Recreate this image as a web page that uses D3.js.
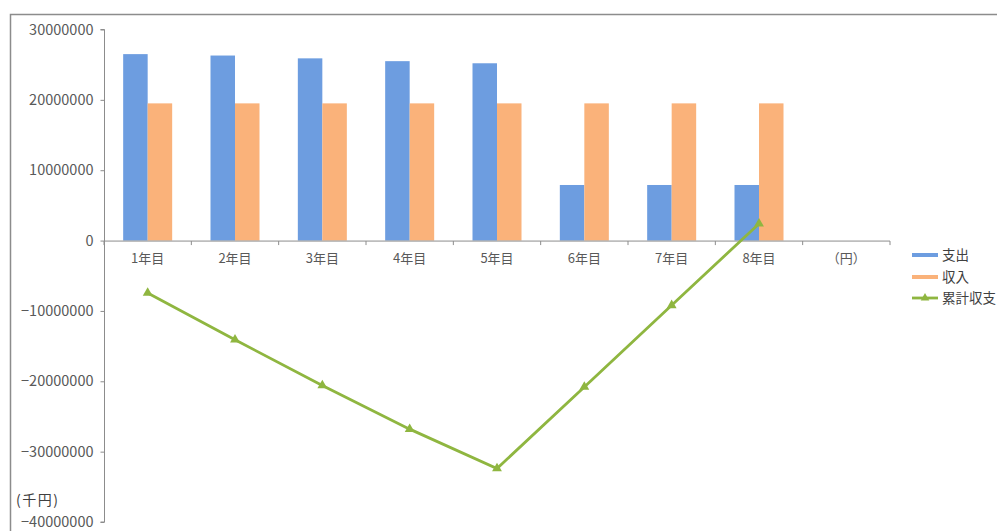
<!DOCTYPE html>
<html><head><meta charset="utf-8">
<script src="https://cdn.jsdelivr.net/npm/d3@7"></script>
<style>
body{margin:0;background:#fff;}
text{font-family:"Noto Sans CJK JP","Noto Sans",sans-serif;}
</style></head>
<body><svg id="c" width="997" height="531"></svg>
<script>
const categories = ["1年目","2年目","3年目","4年目","5年目","6年目","7年目","8年目","（円）"];
const expense = [26500000,26300000,25900000,25500000,25200000,7900000,7900000,7900000,null];
const income  = [19500000,19500000,19500000,19500000,19500000,19500000,19500000,19500000,null];
const cumulative = [-7450000,-14100000,-20600000,-26800000,-32400000,-20800000,-9200000,2400000,null];
const yTicks = [30000000,20000000,10000000,0,-10000000,-20000000,-30000000,-40000000];
const seriesNames = ["支出","収入","累計収支"];
const colors = {exp:"#6d9de0", inc:"#fab27a", cum:"#8fb640"};

const svg = d3.select("#c");
// frame
svg.append("path").attr("d","M10.5,531 L10.5,14.5 L997,14.5").attr("fill","none").attr("stroke","#8c8c8c").attr("stroke-width",1.5);

const x = d3.scaleBand().domain(categories).range([104,890]);
const y = d3.scaleLinear().domain([-40000000,30000000]).range([522,29.5]);

// y axis
const ya = svg.append("g").attr("transform","translate(104.5,0)")
  .call(d3.axisLeft(y).tickValues(yTicks).tickSize(4).tickPadding(7).tickFormat(d3.format("d")));
ya.select(".domain").attr("stroke","#8c8c8c").attr("d","M-4,"+y(30000000)+"H0V"+y(-40000000)+"H-4");
ya.selectAll(".tick line").attr("stroke","#8c8c8c");
ya.selectAll("text").attr("fill","#595959").attr("font-size",14.5).attr("font-family","'Liberation Sans',Arial,sans-serif");

// bars
const bw = 24.5;
svg.append("g").selectAll("rect").data(categories.map((c,i)=>({c,v:expense[i]})).filter(d=>d.v!=null))
  .join("rect").attr("x",d=>x(d.c)+x.bandwidth()/2-bw).attr("width",bw)
  .attr("y",d=>y(d.v)).attr("height",d=>y(0)-y(d.v)).attr("fill",colors.exp);
svg.append("g").selectAll("rect").data(categories.map((c,i)=>({c,v:income[i]})).filter(d=>d.v!=null))
  .join("rect").attr("x",d=>x(d.c)+x.bandwidth()/2).attr("width",bw)
  .attr("y",d=>y(d.v)).attr("height",d=>y(0)-y(d.v)).attr("fill",colors.inc);

// x axis
const xa = svg.append("g").attr("transform","translate(0,"+(y(0)+0.5)+")");
xa.append("line").attr("x1",104).attr("x2",890).attr("stroke","#8c8c8c");
xa.selectAll(".t").data(categories.concat(["__end"])).join("line")
  .attr("x1",(d,i)=>i<categories.length?x(d):890).attr("x2",(d,i)=>i<categories.length?x(d):890)
  .attr("y1",0).attr("y2",4).attr("stroke","#8c8c8c");
xa.selectAll("text").data(categories).join("text")
  .attr("x",d=>x(d)+x.bandwidth()/2).attr("y",22).attr("text-anchor","middle")
  .attr("fill","#595959").attr("font-size",13).text(d=>d);

// line
const pts = categories.map((c,i)=>({c,v:cumulative[i]})).filter(d=>d.v!=null);
svg.append("path").datum(pts)
  .attr("d",d3.line().x(d=>x(d.c)+x.bandwidth()/2).y(d=>y(d.v)))
  .attr("fill","none").attr("stroke",colors.cum).attr("stroke-width",2.8);
const tri = d3.symbol().type(d3.symbolTriangle).size(42);
svg.append("g").selectAll("path").data(pts).join("path")
  .attr("transform",d=>"translate("+(x(d.c)+x.bandwidth()/2)+","+y(d.v)+")")
  .attr("d",tri).attr("fill",colors.cum);

// unit label
svg.append("text").attr("x",16).attr("y",505).attr("fill","#404040").attr("font-size",14).attr("letter-spacing",1.5).text("(千円)");

// legend
const lg = svg.append("g").attr("transform","translate(912,0)");
const ly = [255,277,298];
const lc = [colors.exp,colors.inc,colors.cum];
seriesNames.forEach((n,i)=>{
  lg.append("line").attr("x1",0).attr("x2",26).attr("y1",ly[i]).attr("y2",ly[i])
    .attr("stroke",lc[i]).attr("stroke-width",i<2?4:2.8);
  if(i===2) lg.append("path").attr("transform","translate(13,"+ly[i]+")").attr("d",d3.symbol().type(d3.symbolTriangle).size(32)()).attr("fill",lc[i]);
  lg.append("text").attr("x",30).attr("y",ly[i]+5).attr("font-size",13.5).attr("fill","#404040").text(n);
});
</script></body></html>
